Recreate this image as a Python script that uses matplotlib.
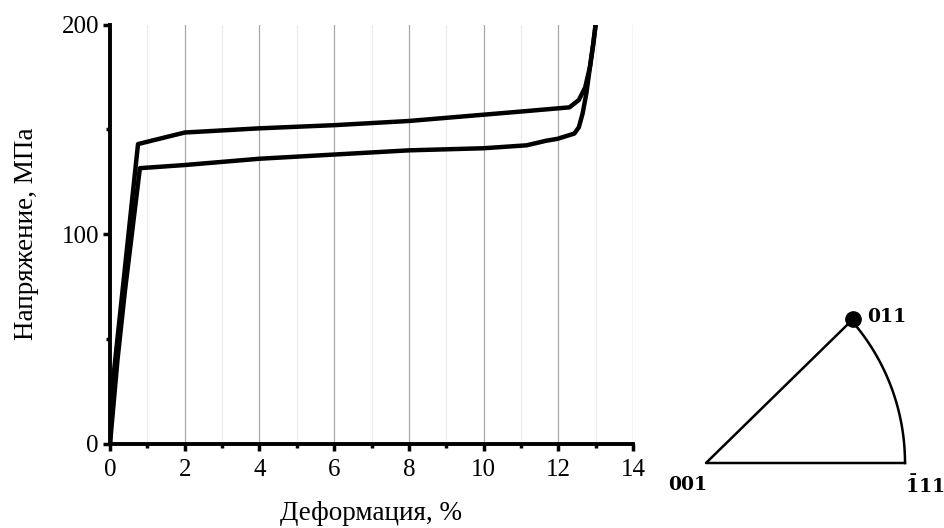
import matplotlib
matplotlib.use("Agg")
import matplotlib.pyplot as plt
import numpy as np
from matplotlib.ticker import MultipleLocator

plt.rcParams['font.family'] = ['Liberation Serif', 'DejaVu Serif']
plt.rcParams['mathtext.fontset'] = 'dejavuserif'

# Loading branch (strain %, stress MPa)
load_strain = [0.0, 0.05, 0.75, 2.0, 4.0, 6.0, 8.0, 9.0, 10.0, 11.0, 12.3, 12.55, 12.72, 12.85, 12.93, 13.0]
load_stress = [0.0, 25.0, 143.0, 148.5, 150.5, 152.0, 154.0, 155.5, 157.0, 158.5, 160.5, 164.0, 170.0, 180.0, 190.0, 200.0]

# Unloading branch
unload_strain = [13.0, 12.93, 12.85, 12.75, 12.65, 12.55, 12.43, 11.98, 11.68, 11.15, 10.0, 8.0, 6.0, 4.0, 2.0, 0.8, 0.4, 0.2, 0.0]
unload_stress = [200.0, 190.0, 180.0, 167.0, 157.5, 151.0, 148.0, 145.5, 144.6, 142.4, 141.0, 140.0, 138.0, 136.0, 133.0, 131.5, 73.0, 40.0, 0.0]

x_label = "Деформация, %"
y_label = "Напряжение, МПа"

# Stereographic triangle poles (inset, relative units)
pole_names = ["001", r"$\mathbf{\bar{1}11}$", "011"]
pole_x = [0.0, 1.0, 0.735]
pole_y = [0.0, 0.0, 0.719]
load_dir = (0.739, 0.724)

fig = plt.figure(figsize=(9.44, 5.28), dpi=100)
ax = fig.add_axes([110/944, 1-444/528, (633-110)/944, (444-24.5)/528])

ax.plot(load_strain, load_stress, color='black', lw=3.2, solid_joinstyle='round', zorder=3)
ax.plot(unload_strain, unload_stress, color='black', lw=3.2, solid_joinstyle='round', zorder=3)

ax.set_xlim(0, 14)
ax.set_ylim(0, 200)
ax.xaxis.set_major_locator(MultipleLocator(2))
ax.xaxis.set_minor_locator(MultipleLocator(1))
ax.yaxis.set_major_locator(MultipleLocator(100))
ax.yaxis.set_minor_locator(MultipleLocator(50))
ax.grid(axis='x', which='major', color='#a8a8a8', lw=0.9)
ax.grid(axis='x', which='minor', color='#ececec', lw=0.9)
ax.set_axisbelow(True)

for s in ['top', 'right']:
    ax.spines[s].set_visible(False)
for s in ['left', 'bottom']:
    ax.spines[s].set_linewidth(2.8)
ax.tick_params(which='major', direction='out', length=5, width=2.5, labelsize=18)
ax.tick_params(axis='x', which='major', pad=6)
ax.tick_params(axis='y', which='major', pad=3)
ax.tick_params(which='minor', direction='out', length=3, width=2.5)
ax.set_xlabel(x_label, fontsize=19.5, labelpad=14)
ax.set_ylabel(y_label, fontsize=19.5, labelpad=16)

# Inset stereographic triangle
ins = fig.add_axes([(706-0.2*199)/944, 1-(463+0.3*199)/528, 1.4*199/944, 1.15*199/528])
ins.set_xlim(-0.2, 1.2)
ins.set_ylim(-0.3, 0.85)
ins.axis('off')
ins.plot([pole_x[2], pole_x[0], pole_x[1]], [pole_y[2], pole_y[0], pole_y[1]], color='black', lw=1.8)
cx = -0.087
r = pole_x[1] - cx
a0 = np.arctan2(pole_y[2], pole_x[2] - cx)
th = np.linspace(a0, 0, 100)
ins.plot(cx + r*np.cos(th), r*np.sin(th), color='black', lw=1.8)
ins.plot([load_dir[0]], [load_dir[1]], 'o', color='black', ms=11)
lbl_font = dict(family='DejaVu Serif', fontweight='bold', fontsize=13.5)
ins.text(-0.09, -0.11, pole_names[0], ha='center', va='center', **lbl_font)
ins.text(1.10, -0.115, pole_names[1], ha='center', va='center', **lbl_font)
ins.text(0.91, 0.735, pole_names[2], ha='center', va='center', **lbl_font)

fig.savefig("out.png", dpi=100)
